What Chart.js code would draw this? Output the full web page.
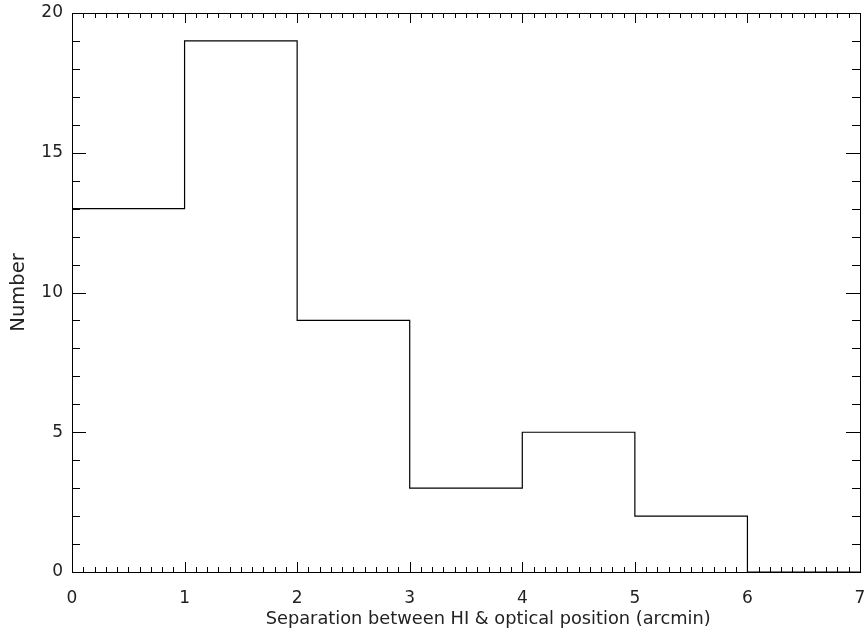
<!DOCTYPE html>
<html>
<head>
<meta charset="utf-8">
<script src="https://cdn.jsdelivr.net/npm/chart.js@4"></script>
<style>
  html, body { margin: 0; padding: 0; background: #fff; }
  #wrap { width: 864px; height: 630px; }
</style>
</head>
<body>
<div id="wrap"><canvas id="histChart"></canvas></div>
<script>
// bin left edges (arcmin) and counts; last point closes the final bin
const binEdges = [0, 1, 2, 3, 4, 5, 6, 7];
const counts = [13, 19, 9, 3, 5, 2, 0, 0];
const xTicks = [0, 1, 2, 3, 4, 5, 6, 7];
const yTicks = [0, 5, 10, 15, 20];

// IDL style frame with inward ticks on all four sides
const frameTicks = {
    id: 'frameTicks',
    afterDraw(chart) {
        const ctx = chart.ctx;
        const a = chart.chartArea;
        const x = chart.scales.x, y = chart.scales.y;
        ctx.save();
        ctx.strokeStyle = '#000';
        ctx.lineWidth = 1;
        ctx.strokeRect(a.left + 0.5, a.top + 0.5, a.right - a.left, a.bottom - a.top);
        ctx.beginPath();
        for (let i = 0; i <= 70; i++) {
            const px = Math.round(x.getPixelForValue(i / 10)) + 0.5;
            const len = i % 10 === 0 ? 10 : 5;
            ctx.moveTo(px, a.bottom); ctx.lineTo(px, a.bottom - len);
            ctx.moveTo(px, a.top); ctx.lineTo(px, a.top + len);
        }
        for (let j = 0; j <= 20; j++) {
            const py = Math.round(y.getPixelForValue(j)) + 0.5;
            const len = j % 5 === 0 ? 14 : 8;
            ctx.moveTo(a.left, py); ctx.lineTo(a.left + len, py);
            ctx.moveTo(a.right, py); ctx.lineTo(a.right - len, py);
        }
        ctx.stroke();
        ctx.restore();
    }
};

const tickFont = { family: 'DejaVu Sans', size: 17 };
const titleFont = { family: 'DejaVu Sans', size: 17.8 };

new Chart(document.getElementById('histChart'), {
    type: 'line',
    data: {
        datasets: [{
            data: binEdges.map((e, i) => ({ x: e, y: counts[i] })),
            stepped: 'before',
            borderColor: '#000',
            borderWidth: 1.2,
            pointRadius: 0,
            fill: false
        }]
    },
    options: {
        responsive: true,
        maintainAspectRatio: false,
        animation: false,
        layout: { padding: { top: 13, right: 4, left: 0, bottom: 0 } },
        plugins: { legend: { display: false }, tooltip: { enabled: false } },
        scales: {
            x: {
                type: 'linear',
                min: 0, max: 7,
                grid: { display: false, drawTicks: false },
                border: { display: false },
                afterBuildTicks: s => { s.ticks = xTicks.map(v => ({ value: v })); },
                ticks: { color: '#222', font: tickFont, padding: 16, maxRotation: 0 },
                title: {
                    display: true,
                    // en spaces nudge the label right, as in the original
                    text: '\u2002\u2002\u2002\u2002\u2002Separation between HI & optical position (arcmin)',
                    color: '#222', font: titleFont, padding: { top: 0, bottom: 0 }
                },
                afterFit: s => { s.height = 58; s.paddingLeft = 0; s.paddingRight = 0; }
            },
            y: {
                min: 0, max: 20,
                grid: { display: false, drawTicks: false },
                border: { display: false },
                afterBuildTicks: s => { s.ticks = yTicks.map(v => ({ value: v })); },
                ticks: { color: '#222', font: tickFont, padding: 9 },
                title: {
                    display: true, text: 'Number',
                    color: '#222', font: { family: 'DejaVu Sans', size: 19.5 },
                    padding: { top: 7, bottom: 0 }
                },
                afterFit: s => { s.width = 72; s.paddingTop = 0; s.paddingBottom = 0; }
            }
        }
    },
    plugins: [frameTicks]
});
</script>
</body>
</html>
